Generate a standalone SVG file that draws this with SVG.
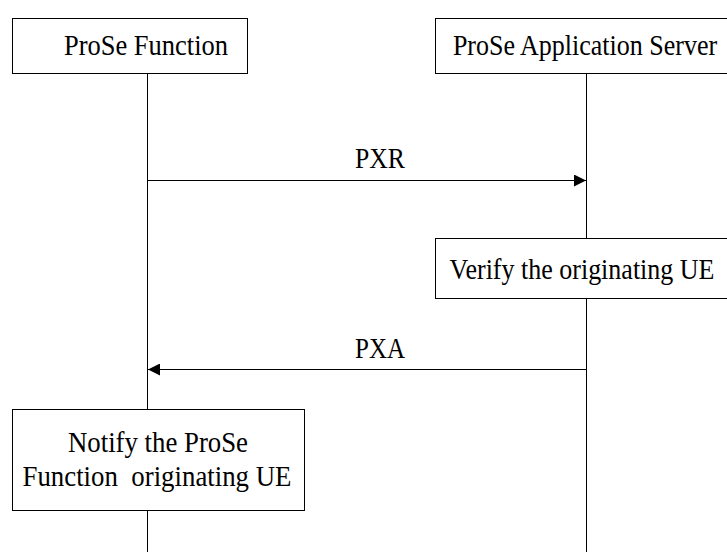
<svg xmlns="http://www.w3.org/2000/svg" width="727" height="552" viewBox="0 0 727 552">
<defs>
<style>
.box{fill:#fff;stroke:#000;stroke-width:1}
.ln{stroke:#000;stroke-width:1;fill:none}
text{font-family:"Liberation Serif","Times New Roman",serif;font-size:29px;fill:#000;text-anchor:middle;white-space:pre}
text.s{font-size:26px}
</style>
<marker id="ah" viewBox="0 0 10 10" refX="10" refY="5" markerWidth="14" markerHeight="12" markerUnits="userSpaceOnUse" orient="auto">
<path d="M0,0 L10,5 L0,10 z" fill="#000"/>
</marker>
</defs>
<rect width="727" height="552" fill="#fff"/>
<g id="lifelines">
<line class="ln" x1="147.5" y1="73" x2="147.5" y2="409"/>
<line class="ln" x1="147.5" y1="510" x2="147.5" y2="552"/>
<line class="ln" x1="586.5" y1="73" x2="586.5" y2="238"/>
<line class="ln" x1="586.5" y1="298" x2="586.5" y2="552"/>
</g>
<g id="node-prose-function">
<rect class="box" x="12.5" y="18.5" width="235" height="55"/>
<text x="146" y="55" textLength="164" lengthAdjust="spacingAndGlyphs">ProSe Function</text>
</g>
<g id="node-prose-as">
<rect class="box" x="435.5" y="18.5" width="292" height="55"/>
<text class="s" transform="translate(585,55) scale(1,1.12)" x="0" y="0">ProSe Application Server</text>
</g>
<g id="node-verify">
<rect class="box" x="435.5" y="238.5" width="292" height="60"/>
<text class="s" transform="translate(582,279) scale(1,1.12)" x="0" y="0">Verify the originating UE</text>
</g>
<g id="node-notify">
<rect class="box" x="12.5" y="409.5" width="292" height="101"/>
<text x="158" y="452" textLength="180" lengthAdjust="spacingAndGlyphs">Notify the ProSe</text>
<text x="157" y="486" textLength="269" lengthAdjust="spacingAndGlyphs" xml:space="preserve">Function  originating UE</text>
</g>
<g id="connectors">
<line class="ln" x1="147.5" y1="180.5" x2="586" y2="180.5" marker-end="url(#ah)"/>
<text x="380" y="168" textLength="50" lengthAdjust="spacingAndGlyphs">PXR</text>
<line class="ln" x1="586" y1="369.5" x2="148" y2="369.5" marker-end="url(#ah)"/>
<text x="380" y="358" textLength="50" lengthAdjust="spacingAndGlyphs">PXA</text>
</g>
</svg>
